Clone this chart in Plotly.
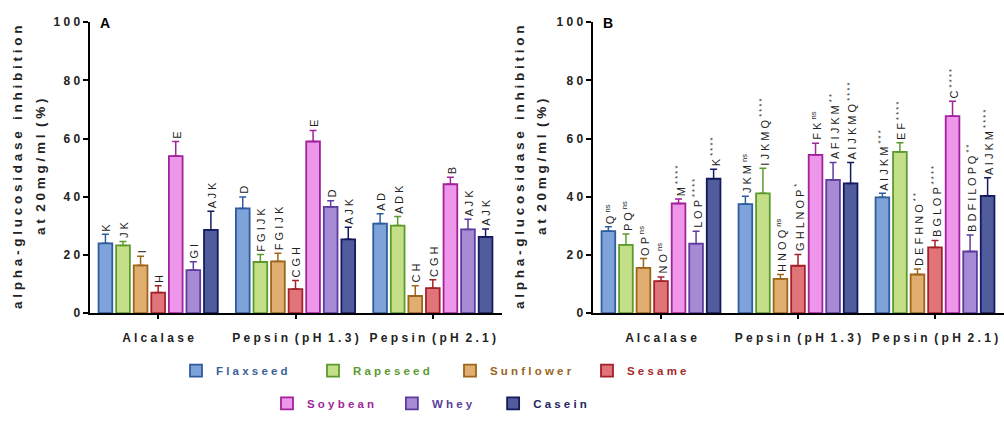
import plotly.graph_objects as go

categories = ["A l c a l a s e", "P e p s i n\u00a0\u00a0( p H\u00a0\u00a01 . 3 )", "P e p s i n\u00a0\u00a0( p H\u00a0\u00a02 . 1 )"]
series = ["Flaxseed", "Rapeseed", "Sunflower", "Sesame", "Soybean", "Whey", "Casein"]
legend_names = ["F l a x s e e d", "R a p e s e e d", "S u n f l o w e r", "S e s a m e",
                "S o y b e a n\u00a0\u00a0\u00a0\u00a0", "W h e y\u00a0\u00a0\u00a0\u00a0\u00a0", "C a s e i n"]

# Panel A values [Alcalase, Pepsin 1.3, Pepsin 2.1]
a_vals = {
    "Flaxseed": [24.0, 36.0, 30.8],
    "Rapeseed": [23.3, 17.6, 30.1],
    "Sunflower": [16.4, 17.8, 5.9],
    "Sesame": [7.1, 8.3, 8.6],
    "Soybean": [54.0, 59.0, 44.3],
    "Whey": [14.8, 36.5, 28.8],
    "Casein": [28.6, 25.4, 26.2],
}
a_err = {
    "Flaxseed": [3.1, 3.9, 3.4],
    "Rapeseed": [1.3, 2.6, 3.1],
    "Sunflower": [3.2, 2.8, 3.5],
    "Sesame": [2.3, 2.9, 2.9],
    "Soybean": [5.0, 3.8, 2.4],
    "Whey": [2.9, 2.1, 3.5],
    "Casein": [6.4, 4.1, 2.7],
}
a_labels = {
    "Flaxseed": ["K", "D", "A D"],
    "Rapeseed": ["J K", "F G I J K", "A D K"],
    "Sunflower": ["I", "F G I J K", "C H"],
    "Sesame": ["H", "C G H", "C G H"],
    "Soybean": ["E", "E", "B"],
    "Whey": ["G I", "D", "A J K"],
    "Casein": ["A J K", "A J K", "A J K"],
}

# Panel B values
b_vals = {
    "Flaxseed": [28.2, 37.5, 39.8],
    "Rapeseed": [23.5, 41.2, 55.4],
    "Sunflower": [15.6, 11.8, 13.3],
    "Sesame": [11.0, 16.3, 22.6],
    "Soybean": [37.7, 54.4, 67.7],
    "Whey": [23.9, 45.8, 21.2],
    "Casein": [46.2, 44.6, 40.3],
}
b_err = {
    "Flaxseed": [1.5, 2.7, 1.4],
    "Rapeseed": [3.7, 8.6, 3.2],
    "Sunflower": [3.2, 1.5, 1.9],
    "Sesame": [1.4, 3.9, 2.4],
    "Soybean": [1.5, 4.0, 5.1],
    "Whey": [4.3, 6.0, 5.7],
    "Casein": [3.3, 7.2, 6.2],
}
b_labels = {
    "Flaxseed": ["Q", "J K M", "A I J K M"],
    "Rapeseed": ["P Q", "I J K M Q", "E F"],
    "Sunflower": ["O P", "H N O Q", "D E F H N O"],
    "Sesame": ["N O", "G H L N O P", "B G L O P"],
    "Soybean": ["M", "F K", "C"],
    "Whey": ["L O P", "A F I J K M", "B D F I L O P Q"],
    "Casein": ["K", "A I J K M Q", "A I J K M"],
}
b_sig = {
    "Flaxseed": ["ns", "ns", "* * *"],
    "Rapeseed": ["ns", "* * * *", "* * * *"],
    "Sunflower": ["ns", "ns", "* *"],
    "Sesame": ["ns", "*", "* * * *"],
    "Soybean": ["* * * *", "ns", "* * * *"],
    "Whey": ["* * * *", "* *", "* *"],
    "Casein": ["* * * *", "* * * *", "* * * *"],
}

y_ticks = [0, 20, 40, 60, 80, 100]
y_ticktext = ["0", "2 0", "4 0", "6 0", "8 0", "1 0 0"]

fills = ["#7DA3D8", "#C3DF88", "#DFAE70", "#E07478", "#EE96E9", "#A68AD3", "#515C9C"]
edges = ["#2F5C9E", "#5C9A2E", "#9C6518", "#A3212B", "#A0239B", "#5D3C9F", "#151A5E"]
text_cols = ["#3A5E9A", "#5A9A30", "#9A6420", "#A52A2A", "#A0289A", "#5A3E9A", "#1E2460"]

FONT = "Liberation Sans, Arial, sans-serif"
BARGAP = 0.104
n = len(series)
slot = (1 - BARGAP) / n
xpos = [0, 1, 2]

fig = go.Figure()
for i, s in enumerate(series):
    for panel, vals, errs in (("A", a_vals, a_err), ("B", b_vals, b_err)):
        xa = "x" if panel == "A" else "x2"
        ya = "y" if panel == "A" else "y2"
        fig.add_trace(go.Bar(
            x=xpos, y=vals[s], xaxis=xa, yaxis=ya,
            name="<span style='color:%s'>%s</span>" % (text_cols[i], legend_names[i]),
            legendgroup=s, showlegend=(panel == "A"),
            legend="legend" if i < 4 else "legend2",
            marker=dict(color=fills[i], line=dict(color=edges[i], width=1.8)),
            error_y=dict(type="data", symmetric=False, array=errs[s], arrayminus=[0, 0, 0],
                         color=edges[i], thickness=1.5, width=3.5),
            offsetgroup=str(i),
        ))

annotations = []
for i, s in enumerate(series):
    for g in range(3):
        xc = xpos[g] + (i - (n - 1) / 2) * slot
        annotations.append(dict(
            x=xc, y=a_vals[s][g] + a_err[s][g], xref="x", yref="y",
            text=a_labels[s][g], textangle=-90, showarrow=False,
            xanchor="center", yanchor="bottom", xshift=1, yshift=2,
            font=dict(family=FONT, size=11, color="#222"), borderpad=0))
        annotations.append(dict(
            x=xc, y=b_vals[s][g] + b_err[s][g], xref="x2", yref="y2",
            text="%s <sup>%s</sup>" % (b_labels[s][g], b_sig[s][g]), textangle=-90, showarrow=False,
            xanchor="center", yanchor="bottom", xshift=1, yshift=2,
            font=dict(family=FONT, size=11, color="#222"), borderpad=0))

title1 = "a l p h a - g l u c o s i d a s e\u00a0\u00a0\u00a0i n h i b i t i o n"
title2 = "a t\u00a0\u00a02 0 m g / m l\u00a0\u00a0( % )"
for x1, x2 in ((18, 41), (520, 542)):
    annotations.append(dict(x=x1 / 1004, y=0.608, xref="paper", yref="paper", text=title1,
                            textangle=-90, showarrow=False, xanchor="center", yanchor="middle",
                            font=dict(family=FONT, size=13.5, color="#222", weight="bold")))
    annotations.append(dict(x=x2 / 1004, y=0.608, xref="paper", yref="paper", text=title2,
                            textangle=-90, showarrow=False, xanchor="center", yanchor="middle",
                            font=dict(family=FONT, size=13.5, color="#222", weight="bold")))
for lab, xp in (("A", 105), ("B", 608)):
    annotations.append(dict(x=xp / 1004, y=(422 - 16.5) / 422, xref="paper", yref="paper", text=lab,
                            showarrow=False, xanchor="center", yanchor="middle",
                            font=dict(family=FONT, size=14, color="#000", weight="bold")))

ydom = [(422 - 316.7) / 422, (422 - 15.7) / 422]
xaxis_common = dict(range=[-0.5, 2.5], tickvals=xpos, ticktext=categories, showline=True,
                    linecolor="#000", linewidth=2, ticks="outside", ticklen=4, tickwidth=1.5,
                    tickcolor="#000", showgrid=False, zeroline=False, ticklabelstandoff=8,
                    tickfont=dict(family=FONT, size=12, color="#222", weight="bold"))
yaxis_common = dict(range=[0, 100], tickvals=y_ticks, ticktext=y_ticktext, showline=True,
                    linecolor="#000", linewidth=2, ticks="outside", ticklen=5, tickwidth=1.5,
                    tickcolor="#000", showgrid=False, zeroline=False, domain=ydom,
                    tickfont=dict(family=FONT, size=12, color="#222", weight="bold"))

fig.update_layout(
    width=1004, height=422, margin=dict(l=0, r=0, t=0, b=0),
    paper_bgcolor="white", plot_bgcolor="white",
    barmode="group", bargap=BARGAP, bargroupgap=0.22,
    xaxis=dict(domain=[89.5 / 1004, 501.5 / 1004], anchor="y", **xaxis_common),
    yaxis=dict(anchor="x", **yaxis_common),
    xaxis2=dict(domain=[592.5 / 1004, 1003.5 / 1004], anchor="y2", **xaxis_common),
    yaxis2=dict(anchor="x2", **yaxis_common),
    annotations=annotations,
    legend=dict(orientation="h", x=176 / 1004, xanchor="left", y=(422 - 376) / 422, yanchor="middle",
                entrywidth=92, entrywidthmode="pixels", traceorder="normal",
                font=dict(family=FONT, size=11.5, weight="bold"), bgcolor="rgba(0,0,0,0)"),
    legend2=dict(orientation="h", x=267 / 1004, xanchor="left", y=(422 - 410) / 422, yanchor="middle",
                 traceorder="normal",
                 font=dict(family=FONT, size=11.5, weight="bold"), bgcolor="rgba(0,0,0,0)"),
    showlegend=True,
)

fig.write_html("out.html")
